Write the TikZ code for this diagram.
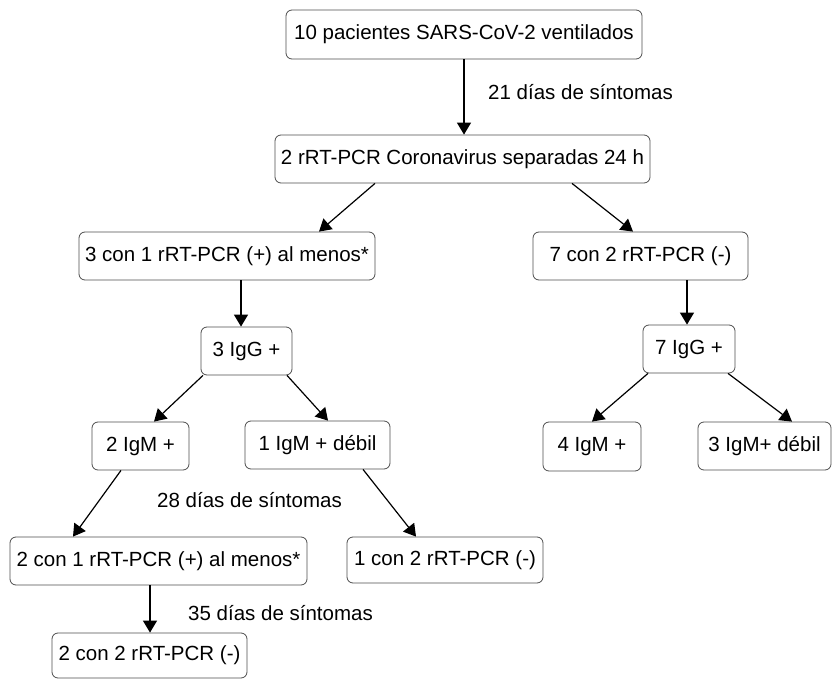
\documentclass[tikz,border=0pt]{standalone}
\usepackage{fontspec}
\setmainfont{Liberation Sans}
\usetikzlibrary{arrows.meta}

\begin{document}
\begin{tikzpicture}[x=1pt, y=-1pt, font=\fontsize{20.5}{24}\selectfont,
	box/.style={draw=black!70, line width=0.8pt, rounded corners=6pt, inner sep=0pt},
	link/.style={->, >={Triangle[length=12pt, width=14pt]}, line width=1.2pt}]
\useasboundingbox (0, 0) rectangle (832, 679);
\node[box, minimum width=356, minimum height=49] (inicio) at (464, 34.5) {10 pacientes SARS-CoV-2 ventilados};
\node[box, minimum width=375, minimum height=48] (pcr) at (462.5, 159) {2 rRT-PCR Coronavirus separadas 24 h};
\node[box, minimum width=296, minimum height=48] (pos) at (227, 256) {3 con 1 rRT-PCR (+) al menos*};
\node[box, minimum width=215, minimum height=48] (neg) at (640.5, 256) {7 con 2 rRT-PCR (-)};
\node[box, minimum width=91, minimum height=48] (iggA) at (246.5, 351) {3 IgG +};
\node[box, minimum width=92, minimum height=48] (iggB) at (689, 349) {7 IgG +};
\node[box, minimum width=97, minimum height=48] (igmA) at (140.5, 446) {2 IgM +};
\node[box, minimum width=145, minimum height=48] (debA) at (317.5, 445) {1 IgM + débil};
\node[box, minimum width=98, minimum height=49] (igmB) at (592, 446.5) {4 IgM +};
\node[box, minimum width=133, minimum height=48] (debB) at (764.5, 446) {3 IgM+ débil};
\node[box, minimum width=297, minimum height=48] (pos28) at (158.5, 561) {2 con 1 rRT-PCR (+) al menos*};
\node[box, minimum width=196, minimum height=46] (neg28) at (445, 560) {1 con 2 rRT-PCR (-)};
\node[box, minimum width=195, minimum height=45] (neg35) at (149.5, 655.5) {2 con 2 rRT-PCR (-)};
\draw[link] (inicio.south) -- (inicio.south |- pcr.north);
\draw[link] ([xshift=-87.5]pcr.south) -- ([xshift=92]pos.north);
\draw[link] ([xshift=109.5]pcr.south) -- ([xshift=-7.5]neg.north);
\draw[link] ([xshift=14]pos.south) -- ([xshift=-5.5]iggA.north);
\draw[link] ([xshift=46.5]neg.south) -- ([xshift=-2]iggB.north);
\draw[link] ([xshift=-43.5]iggA.south) -- ([xshift=13.5]igmA.north);
\draw[link] ([xshift=40.5]iggA.south) -- ([xshift=10.5]debA.north);
\draw[link] ([xshift=-41]iggB.south) -- (igmB.north);
\draw[link] ([xshift=39]iggB.south) -- ([xshift=27.5]debB.north);
\draw[link] ([xshift=-19.5]igmA.south) -- ([xshift=-85.5]pos28.north);
\draw[link] ([xshift=45.5]debA.south) -- ([xshift=-29]neg28.north);
\draw[link] ([xshift=-8.5]pos28.south) -- ([xshift=0.5]neg35.north);
\node[anchor=west, inner sep=0pt] (dia21) at (488, 92) {21 días de síntomas};
\node[anchor=west, inner sep=0pt] (dia28) at (157, 500) {28 días de síntomas};
\node[anchor=west, inner sep=0pt] (dia35) at (188, 613) {35 días de síntomas};
\end{tikzpicture}
\end{document}
